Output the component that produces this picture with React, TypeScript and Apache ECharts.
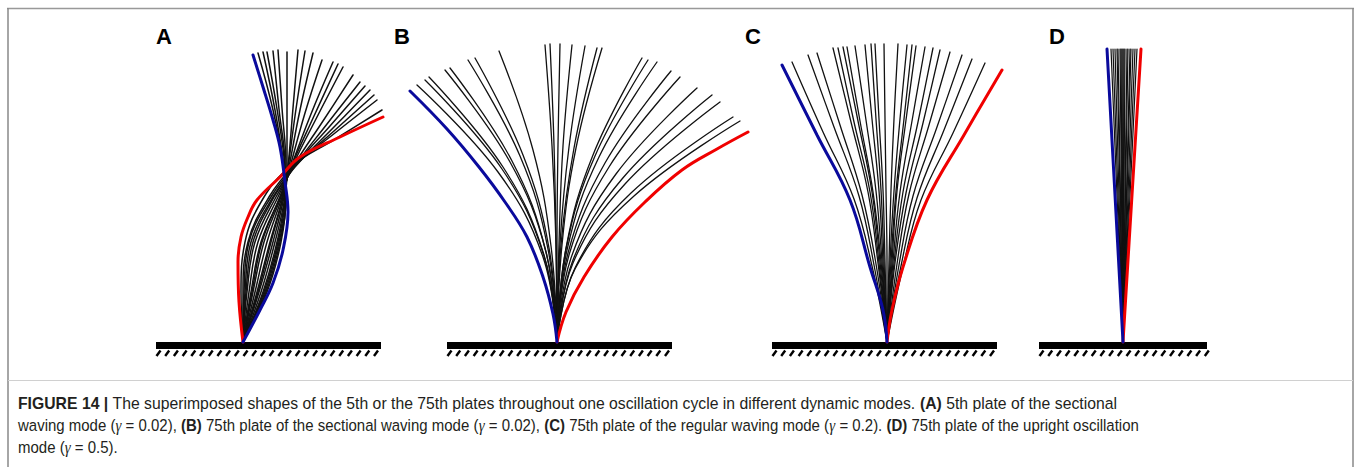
import React, { useEffect, useRef } from "react";
import * as echarts from "echarts";

// ---------- data: shapes ([dx, dy] in px from the clamp point) ----------
const PANEL_LABELS = ["A", "B", "C", "D"];

const A_BLUE = [[0,0],[17,32],[30,59],[40,92],[45,130],[42,160],[37,195],[30,222],[20,255],[10,287]];
const A_RED = [[0,0],[-4,40],[-5,80],[-2,105],[5,125],[14,142],[37,165],[57,185],[97,205],[140,225]];
const A_BLACK = [
  [[0,0],[24,50],[38,100],[43,145],[41,175],[30,232],[15,289]],
  [[0,0],[23,50],[37,100],[43,145],[41,175],[32,232],[20,290]],
  [[0,0],[22,50],[36,100],[43,145],[42,175],[34,233],[24,290]],
  [[0,0],[21,50],[35,100],[42,145],[42,175],[36,233],[30,291]],
  [[0,0],[20,50],[34,100],[42,145],[43,175],[39,234],[35,292]],
  [[0,0],[18,50],[32,100],[42,145],[44,175],[44,233],[44,290]],
  [[0,0],[16,50],[30,100],[41,145],[45,175],[50,234],[55,292]],
  [[0,0],[15,50],[28,100],[40,145],[45,175],[53,233],[62,291]],
  [[0,0],[14,50],[27,100],[40,145],[46,175],[57,232],[70,289]],
  [[0,0],[12,50],[24,100],[39,145],[47,175],[62,229],[79,282]],
  [[0,0],[10,50],[21,100],[38,145],[48,175],[68,228],[90,280]],
  [[0,0],[9,50],[19,100],[37,145],[48,175],[71,226],[95,278]],
  [[0,0],[8,50],[18,100],[37,145],[49,175],[74,225],[100,275]],
  [[0,0],[6,50],[15,100],[35,145],[50,175],[80,221],[110,267]],
  [[0,0],[4,50],[12,100],[33,145],[51,175],[84,218],[117,260]],
  [[0,0],[3,50],[10,100],[31,145],[51,175],[87,216],[122,256]],
  [[0,0],[2,50],[8,100],[30,145],[52,175],[90,214],[127,252]],
  [[0,0],[1,50],[6,100],[28,145],[51,175],[91,211],[131,247]],
  [[0,0],[0,50],[5,100],[26,145],[50,175],[92,209],[134,242]],
  [[0,0],[-2,50],[2,100],[21,145],[47,175],[94,204],[139,232]],
];

const B_BLUE = [[0,0],[-4,28],[-14,65],[-30,105],[-52,140],[-78,175],[-110,213],[-147,251]];
const B_RED = [[0,0],[9,30],[27,65],[55,105],[88,140],[125,172],[160,193],[191,210]];
const B_BLACK = [
  [[0,0],[-14,85],[-59,170],[-140,257]],
  [[0,0],[-13,86],[-55,173],[-132,262]],
  [[0,0],[-13,87],[-54,175],[-128,265]],
  [[0,0],[-11,90],[-47,180],[-112,272]],
  [[0,0],[-11,90],[-45,181],[-107,274]],
  [[0,0],[-9,93],[-37,186],[-89,282]],
  [[0,0],[-8,94],[-34,187],[-82,284]],
  [[0,0],[-6,96],[-24,192],[-58,291]],
  [[0,0],[-1,98],[-5,196],[-12,297]],
  [[0,0],[-1,98],[-3,197],[-7,298]],
  [[0,0],[0,98],[1,197],[3,298]],
  [[0,0],[2,98],[6,196],[15,297]],
  [[0,0],[3,98],[12,195],[28,296]],
  [[0,0],[4,97],[17,194],[40,294]],
  [[0,0],[5,97],[19,194],[45,294]],
  [[0,0],[9,94],[36,187],[85,284]],
  [[0,0],[9,93],[38,186],[91,282]],
  [[0,0],[10,92],[42,185],[100,280]],
  [[0,0],[11,89],[48,179],[114,271]],
  [[0,0],[12,87],[52,175],[123,265]],
  [[0,0],[14,84],[59,168],[140,254]],
  [[0,0],[16,82],[65,163],[155,247]],
  [[0,0],[16,79],[68,158],[163,240]],
  [[0,0],[18,74],[74,149],[176,225]],
  [[0,0],[18,73],[77,146],[183,221]],
];

const C_BLUE = [[0,0],[-4,32],[-17,75],[-37,142],[-70,207],[-105,277]];
const C_RED = [[0,0],[5,32],[16,75],[40,142],[77,207],[115,272]];
const C_BLACK = [
  [[0,0],[-15,76],[-33,143],[-64,210],[-95,280]],
  [[0,0],[-13,77],[-28,146],[-53,215],[-79,287]],
  [[0,0],[-11,78],[-25,147],[-47,217],[-70,289]],
  [[0,0],[-9,79],[-19,150],[-36,220],[-54,294]],
  [[0,0],[-8,79],[-17,150],[-33,220],[-49,294]],
  [[0,0],[-7,80],[-15,150],[-29,221],[-44,295]],
  [[0,0],[-6,80],[-14,150],[-27,221],[-40,295]],
  [[0,0],[-5,80],[-11,151],[-21,222],[-32,296]],
  [[0,0],[-4,80],[-8,151],[-15,223],[-22,297]],
  [[0,0],[-3,80],[-6,152],[-11,223],[-16,298]],
  [[0,0],[-2,80],[-4,152],[-8,223],[-12,298]],
  [[0,0],[0,80],[-1,152],[-2,223],[-3,298]],
  [[0,0],[2,80],[4,152],[7,223],[11,298]],
  [[0,0],[3,80],[7,151],[13,223],[20,297]],
  [[0,0],[4,80],[9,151],[17,223],[25,297]],
  [[0,0],[5,80],[10,151],[19,222],[29,296]],
  [[0,0],[6,80],[13,150],[25,221],[38,295]],
  [[0,0],[7,79],[16,150],[31,220],[46,294]],
  [[0,0],[8,79],[19,149],[36,219],[53,292]],
  [[0,0],[10,78],[22,148],[42,217],[63,290]],
  [[0,0],[12,77],[26,146],[50,215],[75,287]],
  [[0,0],[14,76],[30,144],[57,212],[85,283]],
  [[0,0],[16,75],[34,142],[66,209],[98,279]],
];

const D_BLUE = [[0,0],[-8,147],[-16,293]];
const D_RED = [[0,0],[9,147],[18,293]];
const D_BLACK_TIPS = [-12,-10,-8,-6,-5,-3,-2,-1,0,1,2,4,5,7,8,10,12,14];
const D_BLACK = D_BLACK_TIPS.map((t) => [[0, 0], [t, 293]]);

// clamped ground bars (x extent, px from clamp point)
const GROUND_A = [-87, 138];
const GROUND_B = [-110, 115];
const GROUND_C = [-115, 110];
const GROUND_D = [-84, 84];

// caption
const CAPTION_LINES = [
  [{ t: "FIGURE 14 | ", b: 1 }, { t: "The superimposed shapes of the 5th or the 75th plates throughout one oscillation cycle in different dynamic modes. " }, { t: "(A)", b: 1 }, { t: " 5th plate of the sectional" }],
  [{ t: "waving mode (" }, { t: "γ", i: 1 }, { t: " = 0.02), " }, { t: "(B)", b: 1 }, { t: " 75th plate of the sectional waving mode (" }, { t: "γ", i: 1 }, { t: " = 0.02), " }, { t: "(C)", b: 1 }, { t: " 75th plate of the regular waving mode (" }, { t: "γ", i: 1 }, { t: " = 0.2). " }, { t: "(D)", b: 1 }, { t: " 75th plate of the upright oscillation" }],
  [{ t: "mode (" }, { t: "γ", i: 1 }, { t: " = 0.5)." }],
];

// ---------- layout ----------
const GRIDS = [
  { left: 148, width: 245, xmin: -95, xmax: 150 },
  { left: 397, width: 360, xmin: -160, xmax: 200 },
  { left: 767, width: 245, xmin: -120, xmax: 125 },
  { left: 1033, width: 180, xmin: -90, xmax: 90 },
];
const LABEL_X = [156, 394, 745, 1049];
const CAP_FONT = 16.5;
const CAP_FAMILY = "'Liberation Sans', Arial, sans-serif";

function measureSeg(ctx: CanvasRenderingContext2D, s: any) {
  ctx.font = `${s.i ? "italic " : ""}${s.b ? "bold " : ""}${CAP_FONT}px ${s.i ? "'Liberation Serif', serif" : CAP_FAMILY}`;
  return ctx.measureText(s.t).width;
}

export default function App() {
  const ref = useRef<HTMLDivElement>(null);
  useEffect(() => {
    if (!ref.current) return;
    const chart = echarts.init(ref.current, null, { renderer: "svg" });

    const canvas = document.createElement("canvas");
    const ctx = canvas.getContext("2d") as CanvasRenderingContext2D;
    const widths = CAPTION_LINES.map((ln) => ln.reduce((a, s) => a + measureSeg(ctx, s), 0));
    const s1 = 1099 / widths[0];
    const s2 = 1121 / widths[1];
    const scales = [s1, s2, s2];

    const lineSeries = (gi: number, pts: number[][], color: string, width: number) => ({
      type: "line",
      xAxisIndex: gi,
      yAxisIndex: gi,
      data: pts,
      smooth: 0.4,
      symbol: "none",
      showSymbol: false,
      clip: false,
      silent: true,
      lineStyle: { color, width, cap: "round" },
    });

    const groundSeries = (gi: number, ext: number[]) => ({
      type: "custom",
      xAxisIndex: gi,
      yAxisIndex: gi,
      clip: false,
      silent: true,
      data: [ext],
      renderItem: (_p: any, api: any) => {
        const a = api.value(0);
        const b = api.value(1);
        const tl = api.coord([a, 0]);
        const br = api.coord([b, -7]);
        const children: any[] = [
          { type: "rect", shape: { x: tl[0], y: tl[1], width: br[0] - tl[0], height: br[1] - tl[1] }, style: { fill: "#000" } },
        ];
        for (let x = a + 0.5; x + 3 <= b + 1; x += 8.7) {
          const p = api.coord([x, -14]);
          const q = api.coord([x + 4, -8.5]);
          children.push({ type: "line", shape: { x1: p[0], y1: p[1], x2: q[0], y2: q[1] }, style: { stroke: "#000", lineWidth: 2.4 } });
        }
        return { type: "group", children };
      },
    });

    const panels = [
      { black: A_BLACK, red: A_RED, blue: A_BLUE, ground: GROUND_A, bw: 1.5 },
      { black: B_BLACK, red: B_RED, blue: B_BLUE, ground: GROUND_B, bw: 1.3 },
      { black: C_BLACK, red: C_RED, blue: C_BLUE, ground: GROUND_C, bw: 1.3 },
      { black: D_BLACK, red: D_RED, blue: D_BLUE, ground: GROUND_D, bw: 1.2 },
    ];

    const series: any[] = [];
    panels.forEach((p, gi) => {
      series.push(groundSeries(gi, p.ground));
      p.black.forEach((c) => series.push(lineSeries(gi, c, "#111", p.bw)));
      series.push(lineSeries(gi, p.red, "#f00000", 3));
      series.push(lineSeries(gi, p.blue, "#0a0a9c", 3));
    });

    const graphics: any[] = [
      { type: "line", shape: { x1: 7, y1: 8.5, x2: 1354, y2: 8.5 }, style: { stroke: "#999", lineWidth: 1.5 } },
      { type: "line", shape: { x1: 8, y1: 8, x2: 8, y2: 467 }, style: { stroke: "#888", lineWidth: 1.5 } },
      { type: "line", shape: { x1: 1353, y1: 8, x2: 1353, y2: 467 }, style: { stroke: "#888", lineWidth: 1.5 } },
      { type: "line", shape: { x1: 8, y1: 380.5, x2: 1353, y2: 380.5 }, style: { stroke: "#d0d0d0", lineWidth: 1 } },
    ];
    PANEL_LABELS.forEach((t, i) => {
      graphics.push({
        type: "text",
        x: LABEL_X[i],
        y: 36,
        style: { text: t, fontFamily: "'Liberation Sans', Arial, sans-serif", fontWeight: "bold", fontSize: 22, fill: "#000", align: "left", verticalAlign: "middle" },
      });
    });
    const capY = [403, 425, 447];
    CAPTION_LINES.forEach((ln, li) => {
      const text = ln.map((s) => `{${s.b ? "b" : s.i ? "g" : "n"}|${s.t}}`).join("");
      graphics.push({
        type: "text",
        x: 18,
        y: capY[li],
        scaleX: scales[li],
        style: {
          text,
          fontFamily: CAP_FAMILY,
          fontSize: CAP_FONT,
          fill: "#231f20",
          align: "left",
          verticalAlign: "middle",
          rich: {
            n: { fontFamily: CAP_FAMILY, fontSize: CAP_FONT, fill: "#231f20" },
            b: { fontFamily: CAP_FAMILY, fontSize: CAP_FONT, fontWeight: "bold", fill: "#231f20" },
            g: { fontFamily: "'Liberation Serif', serif", fontSize: CAP_FONT, fontStyle: "italic", fill: "#231f20" },
          },
        },
      });
    });

    chart.setOption({
      animation: false,
      backgroundColor: "#fff",
      grid: GRIDS.map((g) => ({ left: g.left, width: g.width, top: 42, height: 320 })),
      xAxis: GRIDS.map((g, i) => ({ type: "value", gridIndex: i, min: g.xmin, max: g.xmax, show: false })),
      yAxis: GRIDS.map((_g, i) => ({ type: "value", gridIndex: i, min: -20, max: 300, show: false })),
      series,
      graphic: graphics,
    });
    return () => chart.dispose();
  }, []);
  return <div ref={ref} style={{ position: "absolute", left: 0, top: 0, width: 1354, height: 467 }} />;
}
